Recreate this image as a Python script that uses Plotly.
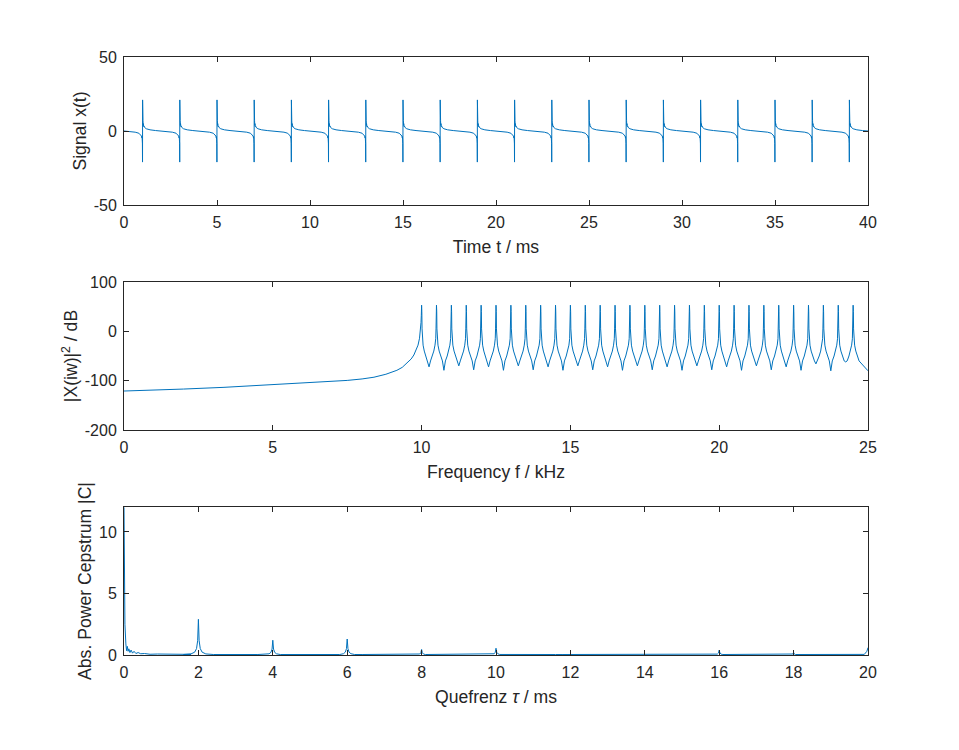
import plotly.graph_objects as go

# ---------------- data ----------------
# Top panel: spikes every 2 ms, one pulse shape repeated
spike_times_ms = [1, 3, 5, 7, 9, 11, 13, 15, 17, 19, 21, 23, 25, 27, 29, 31, 33, 35, 37, 39]
pulse_offsets_ms = [-1.0, -0.7, -0.4, -0.2, -0.1, -0.06, -0.04, -0.03, -0.02, -0.01, -0.004,
                    0.0, 0.004, 0.01, 0.02, 0.03, 0.04, 0.06, 0.08, 0.1, 0.2, 0.4, 0.7]
pulse_values = [0.0, -0.3, -0.8, -1.5, -2.6, -3.4, -4.6, -3.8, -6.0, -8.5, -21.0,
                21.0, 8.0, 5.5, 7.0, 3.8, 5.0, 3.0, 3.4, 2.5, 1.5, 0.8, 0.3]
signal_end_ms = 40.0
signal_end_value = 0.0
sig_xticks = [0, 5, 10, 15, 20, 25, 30, 35, 40]
sig_yticks = [-50, 0, 50]
sig_yticklabels = ["-50", "0", "50"]

# Middle panel: spectrum in dB
low_freq_khz = [0.0, 1.0, 2.0, 3.36, 5.0, 6.72, 7.5, 8.0, 8.4, 8.8, 9.17, 9.35, 9.52, 9.65,
                9.74, 9.82, 9.88, 9.93, 9.96, 9.98, 9.99]
low_freq_db = [-121.0, -119.5, -117.0, -113.5, -108.0, -103.0, -99.5, -96.5, -93.0, -87.0, -79.0,
               -73.0, -64.0, -56.0, -48.0, -38.0, -28.0, -14.0, 0.0, 18.0, 32.0]
peak_freqs_khz = [10.0, 10.5, 11.0, 11.5, 12.0, 12.5, 13.0, 13.5, 14.0, 14.5,
                  15.0, 15.5, 16.0, 16.5, 17.0, 17.5, 18.0, 18.5, 19.0, 19.5,
                  20.0, 20.5, 21.0, 21.5, 22.0, 22.5, 23.0, 23.5, 24.0, 24.5]
peak_offsets_khz = [-0.2, -0.14, -0.09, -0.05, -0.025, -0.015, -0.008, 0.0,
                    0.008, 0.015, 0.025, 0.05, 0.09, 0.14, 0.2]
peak_shape_db = [-60.0, -50.0, -40.0, -28.0, -15.0, 5.0, 40.0, 53.0,
                 40.0, 5.0, -15.0, -28.0, -40.0, -50.0, -60.0]
trough_freqs_khz = [10.25, 10.75, 11.25, 11.75, 12.25, 12.75, 13.25, 13.75, 14.25, 14.75,
                    15.25, 15.75, 16.25, 16.75, 17.25, 17.75, 18.25, 18.75, 19.25, 19.75,
                    20.25, 20.75, 21.25, 21.75, 22.25, 22.75, 23.25, 23.75, 24.25, 25.0]
trough_db = [-72, -79, -70, -78, -72, -79, -70, -78, -72, -79,
             -70, -78, -72, -79, -70, -78, -72, -79, -70, -78,
             -72, -79, -70, -78, -72, -79, -66, -80, -62, -80]
spec_xticks = [0, 5, 10, 15, 20, 25]
spec_yticks = [-200, -100, 0, 100]
spec_yticklabels = ["-200", "-100", "0", "100"]

# Bottom panel: cepstrum
cep_start_q = [0.0, 0.01, 0.025, 0.05, 0.07, 0.09, 0.11, 0.13, 0.16, 0.19, 0.23, 0.27,
               0.32, 0.38, 0.45, 0.55, 0.7, 0.9, 1.2, 1.5, 1.8]
cep_start_c = [12.0, 8.0, 2.5, 0.9, 0.35, 0.7, 0.3, 0.5, 0.2, 0.4, 0.15, 0.3,
               0.12, 0.2, 0.1, 0.12, 0.06, 0.08, 0.05, 0.06, 0.05]
cep_peak_q = [2.0, 4.0, 6.0, 8.0, 10.0, 12.0, 14.0, 16.0, 18.0]
cep_peak_c = [2.9, 1.2, 1.3, 0.45, 0.55, 0.06, 0.06, 0.4, 0.2]
cep_shape_offsets = [-0.2, -0.1, -0.05, -0.02, 0.0, 0.02, 0.05, 0.1, 0.2]
cep_shape_rel = [0.03, 0.08, 0.18, 0.4, 1.0, 0.4, 0.18, 0.08, 0.03]
cep_floor = 0.04
cep_end_q = [19.9, 19.97, 20.0]
cep_end_c = [0.05, 0.3, 0.6]
cep_xticks = [0, 2, 4, 6, 8, 10, 12, 14, 16, 18, 20]
cep_yticks = [0, 5, 10]

# ---------------- assemble series ----------------
sig_t, sig_x = [], []
for s in spike_times_ms:
    for o, v in zip(pulse_offsets_ms, pulse_values):
        sig_t.append(s + o)
        sig_x.append(v)
sig_t.append(signal_end_ms)
sig_x.append(signal_end_value)

spec_f = list(low_freq_khz)
spec_db = list(low_freq_db)
for i, fp in enumerate(peak_freqs_khz):
    for o, v in zip(peak_offsets_khz, peak_shape_db):
        if i == 0 and o < 0:
            continue
        spec_f.append(fp + o)
        spec_db.append(v)
    spec_f.append(trough_freqs_khz[i])
    spec_db.append(trough_db[i])

cep_q = list(cep_start_q)
cep_c = list(cep_start_c)
for q0, h in zip(cep_peak_q, cep_peak_c):
    cep_q.append(q0 - 0.4)
    cep_c.append(cep_floor)
    for o, r in zip(cep_shape_offsets, cep_shape_rel):
        cep_q.append(q0 + o)
        cep_c.append(max(cep_floor, h * r))
    cep_q.append(q0 + 0.4)
    cep_c.append(cep_floor)
cep_q += cep_end_q
cep_c += cep_end_c

# ---------------- figure ----------------
LINE = "#0072BD"
AX = "#262626"
FONT = "Liberation Sans, Arial, sans-serif"

fig = go.Figure()
fig.add_trace(go.Scatter(x=sig_t, y=sig_x, mode="lines", line=dict(color=LINE, width=1),
                         xaxis="x", yaxis="y", showlegend=False))
fig.add_trace(go.Scatter(x=spec_f, y=spec_db, mode="lines", line=dict(color=LINE, width=1),
                         xaxis="x2", yaxis="y2", showlegend=False))
fig.add_trace(go.Scatter(x=cep_q, y=cep_c, mode="lines", line=dict(color=LINE, width=1),
                         xaxis="x3", yaxis="y3", showlegend=False))

# page has an 8px body margin; figure is 943x734 so it fits the 959x750 window
W, HT = 943, 734
OFF = 8
ML, MT = 124 - OFF, 57 - OFF
PW, PH = 868 - 124, 655 - 57
MR, MB = W - ML - PW, HT - MT - PH
def ydom(top, bottom):
    return [(655 - bottom) / PH, (655 - top) / PH]

common = dict(showline=True, linecolor=AX, linewidth=1, mirror="ticks", ticks="inside",
              ticklen=5, tickcolor=AX, tickwidth=1, showgrid=False, zeroline=False,
              automargin=False, tickfont=dict(family=FONT, size=16, color=AX))
xcommon = dict(common, ticklabelstandoff=3)
ycommon = dict(common, ticklabelstandoff=3)
tfont = dict(family=FONT, size=17.6, color=AX)

fig.update_layout(
    width=W, height=HT, margin=dict(l=ML, r=MR, t=MT, b=MB, autoexpand=False),
    paper_bgcolor="white", plot_bgcolor="white",
    xaxis=dict(domain=[0, 1], anchor="y", range=[0, 40], tickvals=sig_xticks,
               title=dict(text="Time t / ms", font=tfont, standoff=10), **xcommon),
    yaxis=dict(domain=ydom(57, 205), anchor="x", range=[-50, 50], tickvals=sig_yticks,
               ticktext=sig_yticklabels,
               title=dict(text="Signal x(t)", font=tfont, standoff=2), **ycommon),
    xaxis2=dict(domain=[0, 1], anchor="y2", range=[0, 25], tickvals=spec_xticks,
                title=dict(text="Frequency f / kHz", font=tfont, standoff=10), **xcommon),
    yaxis2=dict(domain=ydom(282, 430), anchor="x2", range=[-200, 100], tickvals=spec_yticks,
                ticktext=spec_yticklabels,
                title=dict(text="|X(iw)|<sup>2</sup> / dB", font=tfont, standoff=2), **ycommon),
    xaxis3=dict(domain=[0, 1], anchor="y3", range=[0, 20], tickvals=cep_xticks,
                title=dict(text="Quefrenz <i>τ</i> / ms", font=tfont, standoff=10), **xcommon),
    yaxis3=dict(domain=ydom(507, 655), anchor="x3", range=[0, 12.03], tickvals=cep_yticks,
                title=dict(text="Abs. Power Cepstrum |C|", font=tfont, standoff=2), **ycommon),
)

fig.write_html("out.html")
